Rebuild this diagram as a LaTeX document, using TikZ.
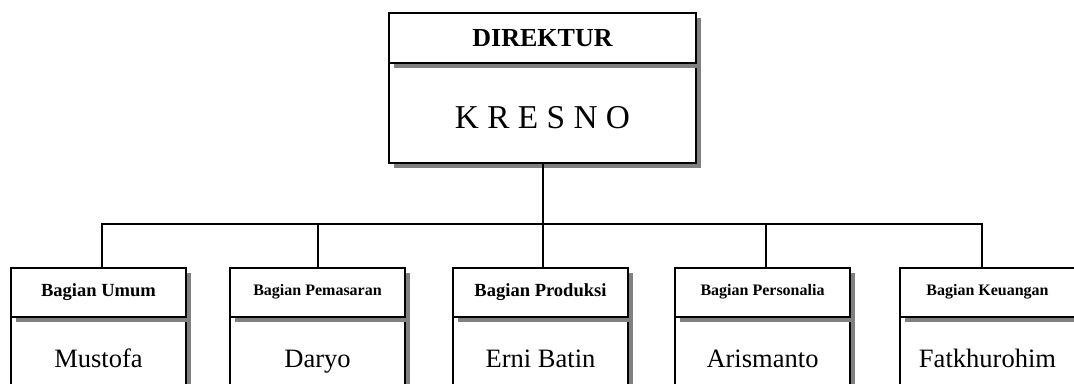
\documentclass[tikz,border=0pt]{standalone}
\usepackage{fontspec}
\setmainfont{Liberation Serif}
\usetikzlibrary{shadows}
\begin{document}
\begin{tikzpicture}[x=0.75pt, y=0.75pt, line width=1.5pt,
  box/.style={draw, fill=white, rectangle, inner sep=0pt,
    drop shadow={shadow xshift=4pt, shadow yshift=-4pt, fill=black!50, opacity=1}},
  tophead/.style={box, minimum width=230.25pt, minimum height=37.5pt,
    font=\bfseries\fontsize{19.5}{23}\selectfont},
  topbody/.style={box, minimum width=230.25pt, minimum height=75pt},
  head/.style={box, minimum width=131.25pt, minimum height=36.75pt,
    font=\bfseries\fontsize{13.9}{16}\selectfont},
  smallhead/.style={head, font=\bfseries\fontsize{12}{14}\selectfont},
  body/.style={box, minimum width=131.25pt, minimum height=67.5pt},
  person/.style={anchor=base, font=\fontsize{19.9}{23}\selectfont}]

\clip (0,0) rectangle (1074,-383);

% Direktur
\node[topbody] (dirbody) at (542.5,-113) {};
\node[tophead] (dirhead) at (542.5,-38) {DIREKTUR};
\node[anchor=base, font=\fontsize{25}{29}\selectfont] (kresno) at (542.5,-128) {K R E S N O};

% Bagian
\node[body] (umumbody) at (98.5,-361) {};
\node[head] (umumhead) at (98.5,-292) {Bagian Umum};
\node[person] (umumname) at (98.5,-367) {Mustofa};

\node[body] (pasarbody) at (317.5,-361) {};
\node[smallhead] (pasarhead) at (317.5,-292) {Bagian Pemasaran};
\node[person] (pasarname) at (317.5,-367) {Daryo};

\node[body] (prodbody) at (540.5,-361) {};
\node[head] (prodhead) at (540.5,-292) {Bagian Produksi};
\node[person] (prodname) at (540.5,-367) {Erni Batin};

\node[body] (persbody) at (762.5,-361) {};
\node[smallhead] (pershead) at (762.5,-292) {Bagian Personalia};
\node[person] (persname) at (762.5,-367) {Arismanto};

\node[body] (keubody) at (987.5,-361) {};
\node[smallhead] (keuhead) at (987.5,-292) {Bagian Keuangan};
\node[person] (keuname) at (987.5,-367) {Fatkhurohim};

% Garis
\coordinate (bus1) at (102,-223.5);
\coordinate (bus2) at (318.3,-223.5);
\coordinate (bus3) at (543,-223.5);
\coordinate (bus4) at (765.7,-223.5);
\coordinate (bus5) at (982,-223.5);

\draw (dirbody.south) -- (dirbody.south |- bus1);
\draw (bus1 |- umumhead.north) -- (bus1) -- (bus5) -- (bus5 |- keuhead.north);
\draw (bus2) -- (bus2 |- pasarhead.north);
\draw (bus3) -- (bus3 |- prodhead.north);
\draw (bus4) -- (bus4 |- pershead.north);

\end{tikzpicture}
\end{document}
